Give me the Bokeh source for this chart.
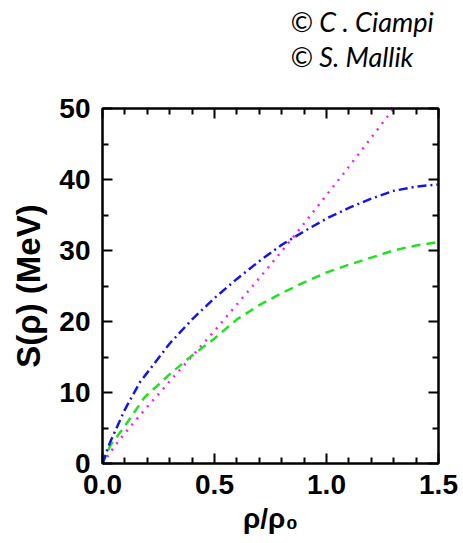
from bokeh.plotting import figure
from bokeh.models import Range1d, FixedTicker, LinearAxis, Title
from bokeh.embed import file_html
from bokeh.resources import INLINE

# ---- data ----
x_blue = [0.0, 0.034, 0.1, 0.168, 0.2, 0.3, 0.4, 0.5, 0.6, 0.7, 0.8, 0.9, 1.0, 1.1, 1.2, 1.3, 1.4, 1.5]
s_blue = [0.0, 3.0, 7.6, 11.5, 12.8, 16.9, 20.3, 23.3, 26.0, 28.5, 30.8, 32.7, 34.5, 36.0, 37.3, 38.4, 39.0, 39.3]

x_green = [0.0, 0.036, 0.086, 0.1, 0.185, 0.2, 0.257, 0.3, 0.4, 0.5, 0.6, 0.7, 0.8, 0.9, 1.0, 1.1, 1.2, 1.3, 1.4, 1.5]
s_green = [0.0, 2.6, 4.7, 5.3, 9.2, 9.7, 11.3, 12.6, 15.2, 17.6, 20.3, 22.3, 24.0, 25.5, 26.9, 28.0, 29.0, 30.0, 30.7, 31.2]

x_mag = [0.0, 0.056, 0.1, 0.13, 0.2, 0.279, 0.3, 0.4, 0.5, 0.6, 0.7, 0.8, 0.9, 1.0, 1.1, 1.2, 1.3, 1.32]
s_mag = [0.0, 2.5, 4.3, 5.4, 8.0, 10.8, 11.6, 15.1, 18.7, 22.4, 26.1, 29.9, 33.8, 37.8, 41.8, 45.9, 50.0, 50.8]

x_major = [0.0, 0.5, 1.0, 1.5]
x_minor = [0.1, 0.2, 0.3, 0.4, 0.6, 0.7, 0.8, 0.9, 1.1, 1.2, 1.3, 1.4]
y_major = [0, 10, 20, 30, 40, 50]
y_minor = [5, 15, 25, 35, 45]
x_tick_labels = {0.0: "0.0", 0.5: "0.5", 1.0: "1.0", 1.5: "1.5"}

credits = ["© C . Ciampi", "© S. Mallik"]

W, H = 460, 543
p = figure(width=W, height=H, output_backend="svg", toolbar_location=None,
           x_range=Range1d(0, 1.5), y_range=Range1d(0, 50),
           min_border_left=102, min_border_right=22, min_border_top=108, min_border_bottom=80,
           x_axis_location=None, y_axis_location=None)
p.grid.visible = False
p.outline_line_color = "black"
p.outline_line_width = 2
p.background_fill_color = "white"
p.border_fill_color = "white"

FONT = "Liberation Sans"

def style_axis(ax, major, minor, show_labels):
    ax.ticker = FixedTicker(ticks=major, minor_ticks=minor)
    ax.axis_line_color = "black"
    ax.axis_line_width = 2
    ax.major_tick_line_color = "black"
    ax.major_tick_line_width = 2
    ax.minor_tick_line_color = "black"
    ax.minor_tick_line_width = 2
    ax.major_tick_in = 10
    ax.major_tick_out = 0
    ax.minor_tick_in = 6
    ax.minor_tick_out = 0
    if show_labels:
        ax.major_label_text_font = FONT
        ax.major_label_text_font_style = "bold"
        ax.major_label_text_font_size = "28px"
        ax.major_label_text_color = "black"
    else:
        ax.major_label_text_font_size = "1px"
        ax.major_label_text_color = None
        ax.major_label_standoff = 0

# top axis (ticks only) next to the frame
xt = LinearAxis()
style_axis(xt, x_major, x_minor, False)
p.add_layout(xt, "above")

# invisible spacer axis: leaves the gap between the frame and the credits
sp = LinearAxis()
style_axis(sp, x_major, [], False)
sp.axis_line_color = None
sp.major_tick_line_color = None
sp.minor_tick_line_color = None
sp.major_tick_in = 0
sp.minor_tick_in = 0
sp.major_tick_out = 36
p.add_layout(sp, "above")

yr = LinearAxis()
style_axis(yr, y_major, y_minor, False)
p.add_layout(yr, "right")

xb = LinearAxis(axis_label="ρ/ρ₀")
style_axis(xb, x_major, x_minor, True)
xb.major_label_overrides = x_tick_labels
xb.major_label_standoff = 11
xb.axis_label_text_font = FONT
xb.axis_label_text_font_style = "bold"
xb.axis_label_text_font_size = "28px"
xb.axis_label_text_color = "black"
xb.axis_label_standoff = 6
p.add_layout(xb, "below")

yl = LinearAxis(axis_label="S(ρ) (MeV)")
style_axis(yl, y_major, y_minor, True)
yl.major_label_standoff = 12
yl.axis_label_text_font = FONT
yl.axis_label_text_font_style = "bold"
yl.axis_label_text_font_size = "33px"
yl.axis_label_text_color = "black"
yl.axis_label_standoff = 9
p.add_layout(yl, "left")

p.line(x_mag, s_mag, line_color="#ee22ee", line_width=2.5, line_dash="2 6")
p.line(x_green, s_green, line_color="#22e022", line_width=2.5, line_dash="9 6")
p.line(x_blue, s_blue, line_color="#1515e6", line_width=2.5, line_dash="9 4 2 4")

# credits as stacked titles above the frame (inner first)
for txt in reversed(credits):
    p.add_layout(Title(text=txt, align="left", offset=188, standoff=0,
                       text_font="Lato", text_font_style="italic",
                       text_font_size="27px", text_color="black"), "above")

open("out.html", "w").write(file_html(p, INLINE))
